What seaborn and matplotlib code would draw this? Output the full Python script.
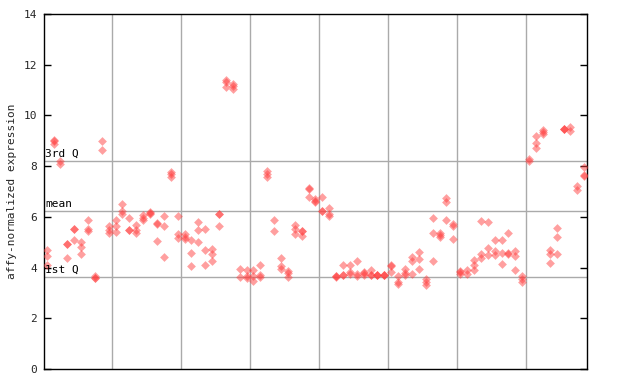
import numpy as np
import pandas as pd
import matplotlib
matplotlib.use("Agg")
import matplotlib.pyplot as plt
import seaborn as sns

nan = np.nan
# replicate values per sample column (79 samples)
rep_a = [4.69, 9.05, 8.22, 4.91, 5.51, 4.99, 5.89, 3.67, 9.00, 5.64,
         5.89, 6.52, 5.97, 5.66, 6.09, 6.19, 5.74, 6.02, 7.75, 6.05,
         5.34, 5.08, 5.78, 5.52, 4.75, 6.13, 11.41, 11.25, 3.96, 3.92,
         3.92, 4.12, 7.80, 5.87, 4.36, 3.86, 5.66, 5.45, 7.15, 6.69,
         6.80, 6.36, 3.66, 4.12, 4.12, 4.24, 3.83, 3.90, 3.71, 3.71,
         4.09, 3.66, 3.94, 4.42, 4.63, 3.56, 5.97, 5.38, 6.76, 5.70,
         3.86, 3.92, 4.29, 5.83, 5.78, 5.07, 5.07, 5.38, 4.65, 3.66,
         8.30, 9.20, 9.44, 4.71, 5.58, 9.48, 9.56, 7.22, 7.97]
rep_b = [4.44, 9.00, 8.09, 4.91, 5.51, 4.82, 5.51, 3.60, 8.65, 5.50,
         5.64, 6.23, 5.48, 5.47, 5.97, 6.17, 5.72, 5.62, 7.68, 5.34,
         5.21, 4.59, 5.47, 4.69, 4.53, 6.10, 11.30, 11.17, 3.61, 3.66,
         3.66, 3.69, 7.70, 5.45, 4.06, 3.77, 5.54, 5.43, 7.09, 6.61,
         6.25, 6.13, 3.66, 3.72, 3.83, 3.74, 3.80, 3.70, 3.70, 3.70,
         4.06, 3.44, 3.79, 4.24, 4.32, 3.43, 5.38, 5.28, 6.57, 5.63,
         3.84, 3.74, 4.12, 4.55, 4.79, 4.65, 4.59, 4.59, 4.45, 3.56,
         8.20, 8.93, 9.35, 4.52, 5.19, 9.48, 9.38, 7.04, 7.66]
rep_c = [4.12, 8.88, nan, 4.36, 5.08, 4.55, 5.45, 3.57, nan, 5.38,
         5.42, 6.13, 5.48, 5.37, 5.87, 6.10, 5.04, 4.41, 7.56, 5.15,
         5.12, 4.06, 5.00, 4.12, 4.25, 5.63, 11.11, 11.05, nan, 3.58,
         3.49, 3.61, 7.57, nan, 3.96, 3.61, 5.34, 5.25, 6.80, 6.59,
         6.22, 6.04, 3.64, 3.70, 3.74, 3.66, 3.70, 3.69, 3.69, 3.69,
         3.83, 3.35, 3.70, 3.73, 3.96, 3.32, 4.24, 5.19, 5.89, 5.12,
         3.73, nan, 3.89, 4.36, 4.48, 4.48, 4.16, 4.53, 3.89, 3.45,
         nan, 8.73, 9.25, 4.17, 4.55, 9.46, nan, nan, 7.62]

q1, mean_v, q3 = 3.62, 6.22, 8.22
yticks = [0, 2, 4, 6, 8, 10, 12, 14]
group_bounds = [9.5, 19.5, 29.5, 39.5, 49.5, 59.5, 69.5]

n = len(rep_a)
df = pd.DataFrame({
    "sample": np.tile(np.arange(n), 3),
    "value": np.concatenate([rep_a, rep_b, rep_c]),
}).dropna()

sns.set_style("white")
plt.rcParams["font.family"] = ["DejaVu Sans Mono"]

fig = plt.figure(figsize=(6.4, 3.84), dpi=100)
ax = fig.add_axes([44 / 640, 1 - 369 / 384, (587 - 44) / 640, (369 - 14) / 384])

for gx in group_bounds:
    ax.axvline(gx, color="#aaaaaa", lw=1, zorder=0)
for yv in (q1, mean_v, q3):
    ax.axhline(yv, color="#aaaaaa", lw=1, zorder=0)

sns.scatterplot(data=df, x="sample", y="value", ax=ax, marker="D", s=20,
                color="#ff4040", alpha=0.5, linewidth=0, legend=False, zorder=3)

ax.set_xlim(-0.39, 78.4)
ax.set_ylim(0, 14)
ax.set_yticks(yticks)
ax.set_yticklabels([str(t) for t in yticks], fontsize=8)
ax.set_xticks([])
ax.tick_params(axis="y", direction="in", length=5, width=1, right=True, left=True,
               labelsize=8, pad=5, color="black")
ax.set_xlabel("")
ax.set_ylabel("affy-normalized expression", fontsize=8, labelpad=5)
for sp in ax.spines.values():
    sp.set_color("black")
    sp.set_linewidth(1)

for yv, lab in ((q3, "3rd Q"), (mean_v, "mean"), (q1, "1st Q")):
    ax.text(0.002, yv + 0.08, lab, transform=ax.get_yaxis_transform(),
            fontsize=8, color="black", va="bottom", ha="left", zorder=4)

fig.savefig("out.png", dpi=100)
